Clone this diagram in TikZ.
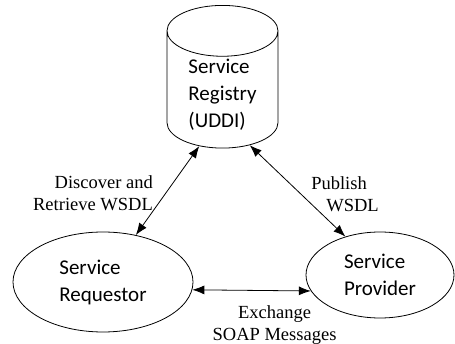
\documentclass[tikz,border=0pt]{standalone}
\usepackage{fontspec}
\setmainfont{Liberation Serif}
\newfontfamily\nodefont{Carlito}
\usetikzlibrary{shapes.geometric,arrows.meta}

\tikzset{
  party/.style={ellipse,draw,line width=0.8pt,align=left,
    font=\nodefont\fontsize{21}{27}\selectfont},
  store/.style={cylinder,shape border rotate=90,draw,line width=0.8pt,
    aspect=0.68,align=left,font=\nodefont\fontsize{21}{27}\selectfont},
  msg/.style={align=center,font=\fontsize{18.5}{22}\selectfont},
  link/.style={{Latex[length=12pt,width=9pt]}-{Latex[length=12pt,width=9pt]},line width=0.8pt}
}

\begin{document}
\begin{tikzpicture}[x=1pt,y=-1pt]
    \useasboundingbox (0,0) rectangle (455,344);
    \node[store,minimum width=111pt,minimum height=126pt,
      text height=68pt,text depth=-3pt] (reg) at (222.5,94)
      {Service\\Registry\\(UDDI)};
    \node[party,minimum width=180pt,minimum height=100pt] (req) at (103,282)
      {Service\\Requestor};
    \node[party,minimum width=148pt,minimum height=86pt]  (prov) at (380,275)
      {Service\\Provider};
    \path[link]
    % registry edges
    (reg.246)   edge node[left=11pt,yshift=-3pt,msg,align=right] {Discover and\\Retrieve WSDL} (req.55)
    (reg.298)   edge node[right=10pt,yshift=-3pt,msg,align=left] {Publish\\\hspace*{15pt}WSDL} (prov.132)
    % message edge
    (req.-5.8)  edge node[below=12pt,xshift=23pt,msg] {Exchange\\SOAP Messages} (prov.193.1);
\end{tikzpicture}
\end{document}
